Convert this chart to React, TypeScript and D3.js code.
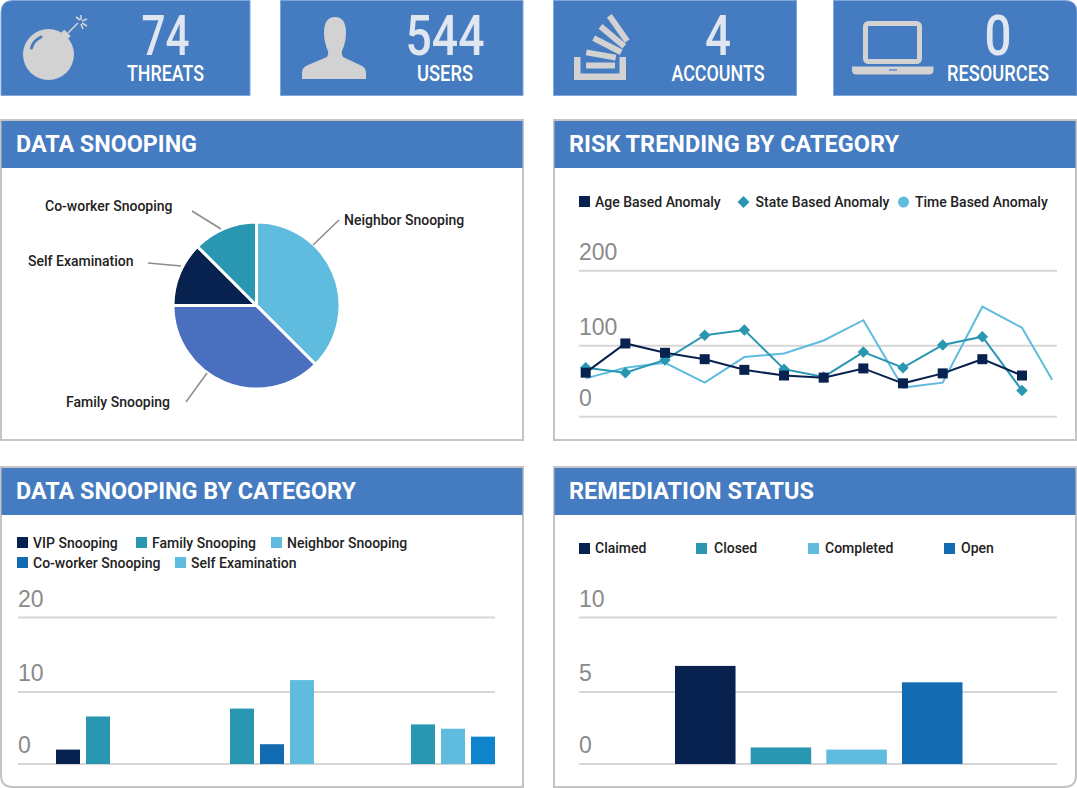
import React from "react";
import * as d3 from "d3";

// ---- data ----
const tileValues = ["74", "544", "4", "0"];
const tileLabels = ["THREATS", "USERS", "ACCOUNTS", "RESOURCES"];

const pieLabels = ["Neighbor Snooping", "Family Snooping", "Self Examination", "Co-worker Snooping"];
const pieValues = [12, 12, 4, 4];
const pieColors = ["#5fbcdf", "#4a6fbe", "#07224f", "#2a97b2"];

const trendAge = [62, 103, 90, 81, 66, 58, 55, 68, 47, 61, 81, 58];
const trendState = [69, 62, 80, 114, 121, 67, 56, 91, 69, 101, 112, 37];
const trendTime = [54, 69, 76, 48, 84, 89, 107, 134, 41, 48, 152, 124, 52];
const trendTimeIndex = [0, 1, 2, 3, 4, 5, 6, 7, 8, 9, 10, 11, 11.76];
const trendTicks = [0, 100, 200];

const snoopGroups = ["A", "B", "C"];
const snoopVip = [2, null, null];
const snoopFamily = [6.6, 7.7, 5.5];
const snoopCoworker = [null, 2.75, null];
const snoopNeighbor = [null, 11.6, null];
const snoopSelf = [null, null, 4.9];
const snoopOther = [null, null, 3.8];
const snoopTicks = [0, 10, 20];

const remCategories = ["Claimed", "Closed", "Completed", "Open"];
const remValues = [6.75, 1.15, 1.0, 5.65];
const remTicks = [0, 5, 10];

// ---- style ----
const NAVY = "#07224f", TEAL = "#2a97b2", LIGHT = "#5fbcdf", BLUE = "#136cb2", BRIGHT = "#0e84cc";
const HEAD = "#457bc0", BORDER = "#c4c4c4", GRID = "#d6d6d6", ICON = "#d2d2d2";
const ROBOTO = "Roboto, sans-serif";
const AXIS = "'Liberation Sans', Arial, sans-serif";

function corners(x: number, y: number, w: number, h: number, tl = 0, tr = 0, br = 0, bl = 0) {
  return `M${x + tl},${y}H${x + w - tr}Q${x + w},${y} ${x + w},${y + tr}V${y + h - br}Q${x + w},${y + h} ${x + w - br},${y + h}H${x + bl}Q${x},${y + h} ${x},${y + h - bl}V${y + tl}Q${x},${y} ${x + tl},${y}Z`;
}

function Tile({ x, w, cx, value, label, vw, lw, tl = 0, tr = 0, children }: any) {
  return (
    <g>
      <path d={corners(x, 0.5, w, 95, tl, tr)} fill={HEAD} stroke="#7fa6d8" strokeWidth={1} />
      {children}
      <text x={cx} y={55} textAnchor="middle" fontFamily={ROBOTO} fontWeight={500} fontSize={56} fill="#dfe6f0"
        textLength={vw} lengthAdjust="spacingAndGlyphs">{value}</text>
      <text x={cx} y={81} textAnchor="middle" fontFamily={ROBOTO} fontWeight={500} fontSize={22} fill="#fff"
        textLength={lw} lengthAdjust="spacingAndGlyphs">{label}</text>
    </g>
  );
}

function Panel({ x, y, title, tw, bl = 0, br = 0 }: any) {
  return (
    <g>
      <path d={corners(x, y, 522, 320, 0, 0, br, bl)} fill="#fff" stroke={BORDER} strokeWidth={2} />
      <rect x={x + 0.5} y={y + 1} width={521} height={47} fill={HEAD} />
      <text x={x + 15} y={y + 32} fontFamily={ROBOTO} fontWeight={700} fontSize={24} fill="#fff"
        textLength={tw} lengthAdjust="spacingAndGlyphs">{title}</text>
    </g>
  );
}

function YAxis({ scale, ticks, x0, x1 }: any) {
  return (
    <g>
      {ticks.map((t: number) => (
        <g key={t}>
          <line x1={x0} x2={x1} y1={scale(t)} y2={scale(t)} stroke={GRID} strokeWidth={2} />
          <text x={x0} y={scale(t) - 11} fontFamily={AXIS} fontSize={23} fill="#8a8a8a">{t}</text>
        </g>
      ))}
    </g>
  );
}

function Legend({ x, y, color, shape = "square" }: any) {
  return (
    <g>
      {shape === "square" && <rect x={x} y={y - 5.5} width={11} height={11} fill={color} />}
      {shape === "diamond" && <path d={d3.symbol(d3.symbolSquare, 72)() as string} transform={`translate(${x + 5.5},${y}) rotate(45)`} fill={color} />}
      {shape === "circle" && <circle cx={x + 5.5} cy={y} r={5.5} fill={color} />}
    </g>
  );
}

function LegendText({ x, y, label }: any) {
  return <text x={x} y={y + 5} fontFamily={ROBOTO} fontWeight={500} fontSize={14} fill="#222">{label}</text>;
}

export default function App() {
  // pie
  const cx = 256.5, cy = 305.5, R = 83.5;
  const pieArcs = d3.pie<number>().sort(null)(pieValues);
  const arc = d3.arc<any>().innerRadius(0).outerRadius(R);
  const pieNotes = [
    { i: 0, a: [313, 245], b: [339, 220], tx: 344, ty: 225 },
    { i: 1, a: [207, 373], b: [186, 402], tx: 66, ty: 407 },
    { i: 2, a: [181, 266], b: [148, 263], tx: 28, ty: 266 },
    { i: 3, a: [221, 229], b: [192, 211], tx: 45, ty: 211 },
  ];

  // trend
  const tx = d3.scaleLinear().domain([0, 11]).range([585.7, 1022]);
  const ty = d3.scaleLinear().domain(trendTicks).range([416.7, 345.7, 270.7]);
  const line = d3.line<number>().x((_, i) => tx(i)).y((d) => ty(d));
  const timeLine = d3.line<number>().x((_, i) => tx(trendTimeIndex[i])).y((d) => ty(d));

  // grouped bars
  const sy = d3.scaleLinear().domain(snoopTicks).range([764, 692, 617.5]);
  const groupStart = d3.scaleOrdinal<string, number>().domain(snoopGroups).range([56, 230, 411]);
  const snoopSeries = [
    { values: snoopVip, color: NAVY },
    { values: snoopFamily, color: TEAL },
    { values: snoopCoworker, color: BLUE },
    { values: snoopNeighbor, color: LIGHT },
    { values: snoopSelf, color: LIGHT },
    { values: snoopOther, color: BRIGHT },
  ];
  const snoopBars = snoopGroups.flatMap((g, gi) => {
    const present = snoopSeries.filter((s) => s.values[gi] != null);
    return present.map((s, k) => ({
      x: groupStart(g) + k * 30,
      v: s.values[gi] as number,
      color: s.color,
    }));
  });

  // remediation
  const rx = d3.scaleBand<string>().domain(remCategories).range([675, 962.5]).paddingInner(0.2);
  const ry = d3.scaleLinear().domain(remTicks).range([764, 692, 617.5]);
  const remColors = [NAVY, TEAL, LIGHT, BLUE];

  return (
    <svg width={1077} height={788} viewBox="0 0 1077 788" style={{ position: "absolute", left: 0, top: 0, background: "#fff" }}>
      {/* tiles */}
      <Tile x={1} w={249} cx={165.5} value={tileValues[0]} label={tileLabels[0]} vw={48} lw={77} tl={12}>
        <circle cx={48.5} cy={54.5} r={25.5} fill={ICON} />
        <rect x={60} y={31} width={9} height={9} fill={ICON} transform="rotate(-45 65 36)" />
        <line x1={68} y1={33} x2={78} y2={23} stroke={ICON} strokeWidth={1.6} />
        <g stroke={ICON} strokeWidth={1.6}>
          <line x1={80} y1={20} x2={76} y2={17} />
          <line x1={81} y1={20} x2={81} y2={15} />
          <line x1={82} y1={21} x2={87} y2={19} />
          <line x1={82} y1={23} x2={87} y2={26} />
          <line x1={81} y1={24} x2={83} y2={29} />
        </g>
        <path d="M31.5,48 Q33,41 41,37" fill="none" stroke={HEAD} strokeWidth={3} strokeLinecap="round" />
      </Tile>
      <Tile x={280.5} w={242.5} cx={445} value={tileValues[1]} label={tileLabels[1]} vw={79} lw={56}>
        <path d="M302,79 L302,73 Q302,67 308,65 L327,57 Q329,54 328,51 Q324,42 324,33 Q324,17 335,17 Q346,17 346,33 Q346,42 342,51 Q341,54 343,57 L360,65 Q366,67 366,73 L366,79 Z" fill={ICON} />
      </Tile>
      <Tile x={553.5} w={243} cx={718} value={tileValues[2]} label={tileLabels[2]} vw={26} lw={93}>
        <path d="M574,57h6.5v16.5h39v-16.5h6.5v23h-52z" fill={ICON} />
        <rect x={586} y={62.5} width={29} height={6} fill={ICON} />
        <rect x={586} y={52} width={30} height={6} fill={ICON} transform="rotate(10 601 55)" />
        <rect x={592} y={42} width={31} height={6} fill={ICON} transform="rotate(27 607 45)" />
        <rect x={597} y={33} width={31} height={6} fill={ICON} transform="rotate(40 612 36)" />
        <rect x={603} y={25} width={31} height={6} fill={ICON} transform="rotate(55 618 28)" />
      </Tile>
      <Tile x={833.5} w={243.5} cx={998} value={tileValues[3]} label={tileLabels[3]} vw={27} lw={102} tr={12}>
        <rect x={865.5} y={23.5} width={54} height={38} rx={3} fill="none" stroke={ICON} strokeWidth={5} />
        <path d="M852,66.5H933.5V70Q933.5,74.5 929,74.5H856.5Q852,74.5 852,70Z" fill={ICON} />
        <rect x={889} y={69} width={8} height={2} fill="#7aa0cf" />
      </Tile>

      {/* panels */}
      <Panel x={1} y={120} title="DATA SNOOPING" tw={181} />
      <Panel x={554} y={120} title="RISK TRENDING BY CATEGORY" tw={330} />
      <Panel x={1} y={467} title="DATA SNOOPING BY CATEGORY" tw={340} bl={12} />
      <Panel x={554} y={467} title="REMEDIATION STATUS" tw={245} br={12} />

      {/* pie */}
      <g transform={`translate(${cx},${cy})`}>
        {pieArcs.map((d, i) => (
          <path key={i} d={arc(d) as string} fill={pieColors[i]} stroke="#fff" strokeWidth={3} />
        ))}
      </g>
      {pieNotes.map((n) => (
        <g key={n.i}>
          <line x1={n.a[0]} y1={n.a[1]} x2={n.b[0]} y2={n.b[1]} stroke="#8c8c8c" strokeWidth={1.5} />
          <text x={n.tx} y={n.ty} fontFamily={ROBOTO} fontWeight={500} fontSize={14} fill="#222">{pieLabels[n.i]}</text>
        </g>
      ))}

      {/* trend */}
      <Legend x={579} y={201.5} color={NAVY} />
      <LegendText x={595} y={202} label="Age Based Anomaly" />
      <Legend x={738} y={202} color={TEAL} shape="diamond" />
      <LegendText x={755.5} y={202} label="State Based Anomaly" />
      <Legend x={898} y={202} color={LIGHT} shape="circle" />
      <LegendText x={915} y={202} label="Time Based Anomaly" />
      <YAxis scale={ty} ticks={trendTicks} x0={579} x1={1057} />
      <path d={timeLine(trendTime) as string} fill="none" stroke={LIGHT} strokeWidth={2} />
      <path d={line(trendState) as string} fill="none" stroke={TEAL} strokeWidth={2} />
      {trendState.map((v, i) => (
        <path key={i} d={d3.symbol(d3.symbolSquare, 66)() as string} transform={`translate(${tx(i)},${ty(v)}) rotate(45)`} fill={TEAL} />
      ))}
      <path d={line(trendAge) as string} fill="none" stroke={NAVY} strokeWidth={2} />
      {trendAge.map((v, i) => (
        <rect key={i} x={tx(i) - 5} y={ty(v) - 5} width={10} height={10} fill={NAVY} />
      ))}

      {/* grouped bars */}
      <Legend x={17} y={542.5} color={NAVY} />
      <LegendText x={33} y={542.5} label="VIP Snooping" />
      <Legend x={136} y={542.5} color={TEAL} />
      <LegendText x={152} y={542.5} label="Family Snooping" />
      <Legend x={271} y={542.5} color={LIGHT} />
      <LegendText x={287} y={542.5} label="Neighbor Snooping" />
      <Legend x={17} y={562.5} color={BLUE} />
      <LegendText x={33} y={562.5} label="Co-worker Snooping" />
      <Legend x={175} y={562.5} color={LIGHT} />
      <LegendText x={191} y={562.5} label="Self Examination" />
      <YAxis scale={sy} ticks={snoopTicks} x0={18} x1={495} />
      {snoopBars.map((b, i) => (
        <rect key={i} x={b.x} y={sy(b.v)} width={24} height={sy(0) - sy(b.v)} fill={b.color} />
      ))}

      {/* remediation */}
      {remCategories.map((c, i) => {
        const lx = [579, 696, 808, 944][i];
        return (
          <g key={c}>
            <Legend x={lx} y={548.5} color={remColors[i]} />
            <LegendText x={[595, 714, 825, 961][i]} y={548} label={c} />
          </g>
        );
      })}
      <YAxis scale={ry} ticks={remTicks} x0={579} x1={1057} />
      {remCategories.map((c, i) => (
        <rect key={c} x={rx(c)} y={ry(remValues[i])} width={rx.bandwidth()} height={ry(0) - ry(remValues[i])} fill={remColors[i]} />
      ))}
    </svg>
  );
}
